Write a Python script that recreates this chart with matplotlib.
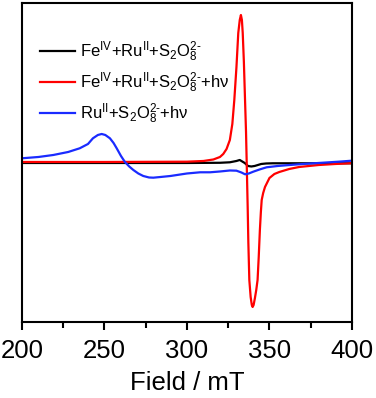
import numpy as np
import matplotlib.pyplot as plt

plt.rcParams['font.family'] = ['Liberation Sans', 'DejaVu Sans']
plt.rcParams['mathtext.default'] = 'regular'

# field (mT) and signal (arb. units)
black_x = [200, 250, 300, 320, 326, 330, 332, 335, 337, 339, 341, 343, 345, 348, 352, 370, 400]
black_y = [-1, -1, -1, -0.8, -0.3, 1, 2, -1, -4, -4.5, -4, -3, -2, -1.5, -1.3, -1.3, -1.3]

red_x = [200, 250, 300, 310, 316, 320, 322, 324, 326, 327.5, 328.7, 330, 331.1, 332, 332.7,
         333.3, 333.8, 334.5, 335.2, 335.8, 336.2, 336.8, 337.2, 337.8, 338.6, 339.3, 339.8,
         340.4, 341.2, 342, 342.8, 343.5, 344.2, 344.8, 345.3, 346.2, 347.3, 348.5, 350,
         353, 356, 362, 368, 380, 390, 400]
red_y = [0, 0, 0.3, 1, 2.5, 5, 8, 13, 22, 38, 62, 95, 129, 142, 147,
         142, 129, 100, 62, 30, 0, -45, -80, -118, -135, -143, -145,
         -143, -136, -128, -118, -95, -68, -50, -38, -31, -25, -21, -16,
         -12, -10, -7, -5, -3, -2, -1.2]

blue_x = [200, 210, 219, 228, 235, 240, 243, 246, 248.3, 250.5, 253.3, 255.5, 257.4, 260,
          262.4, 265, 267.5, 270.5, 273.5, 277, 279.6, 284, 290, 300, 308, 314, 320, 326,
          330, 333, 335.2, 337.5, 340.2, 344, 348.3, 355, 362.4, 372, 382.6, 392, 400]
blue_y = [3.7, 5, 7, 10, 13.7, 18, 23.7, 27, 28, 27, 23.7, 19, 13.7, 6,
          0, -4.5, -8, -11.5, -14, -15.5, -15.7, -15, -14, -11.5, -10.3, -10.3, -9.5, -8.5,
          -8.7, -10.5, -12.3, -11.5, -9.7, -7.5, -5.3, -4, -3, -1.8, -0.7, 0.3, 1.3]

labels = ['Fe$^{IV}$+Ru$^{II}$+S$_2$O$_8^{2‐}$',
          'Fe$^{IV}$+Ru$^{II}$+S$_2$O$_8^{2‐}$+hν',
          'Ru$^{II}$+S$_2$O$_8^{2‐}$+hν']
xticks = [200, 250, 300, 350, 400]

fig = plt.figure(figsize=(3.76, 3.98), dpi=100)
ax = fig.add_axes([0.0585, 0.191, 0.8775, 0.8015])

ax.plot(black_x, black_y, color='black', lw=1.6, label=labels[0])
ax.plot(red_x, red_y, color='#ff0000', lw=1.6, label=labels[1])
ax.plot(blue_x, blue_y, color='#1a2bff', lw=1.6, label=labels[2])

ax.set_xlim(200, 400)
ax.set_ylim(-160, 159)
ax.set_xticks(xticks)
ax.set_xticks([225, 275, 325, 375], minor=True)
ax.set_yticks([])
ax.tick_params(axis='x', which='major', direction='out', length=6, width=1.5,
               labelsize=18.5, pad=6)
ax.tick_params(axis='x', which='minor', direction='out', length=4, width=1.5)
for s in ax.spines.values():
    s.set_linewidth(1.5)

ax.set_xlabel('Field / mT', fontsize=18.5, labelpad=6)

leg = ax.legend(loc='upper left', bbox_to_anchor=(0.034, 0.905), frameon=False,
                fontsize=12, handlelength=2.1, handletextpad=0.3, labelspacing=0.38,
                borderaxespad=0)

fig.savefig('out.png', dpi=100)
